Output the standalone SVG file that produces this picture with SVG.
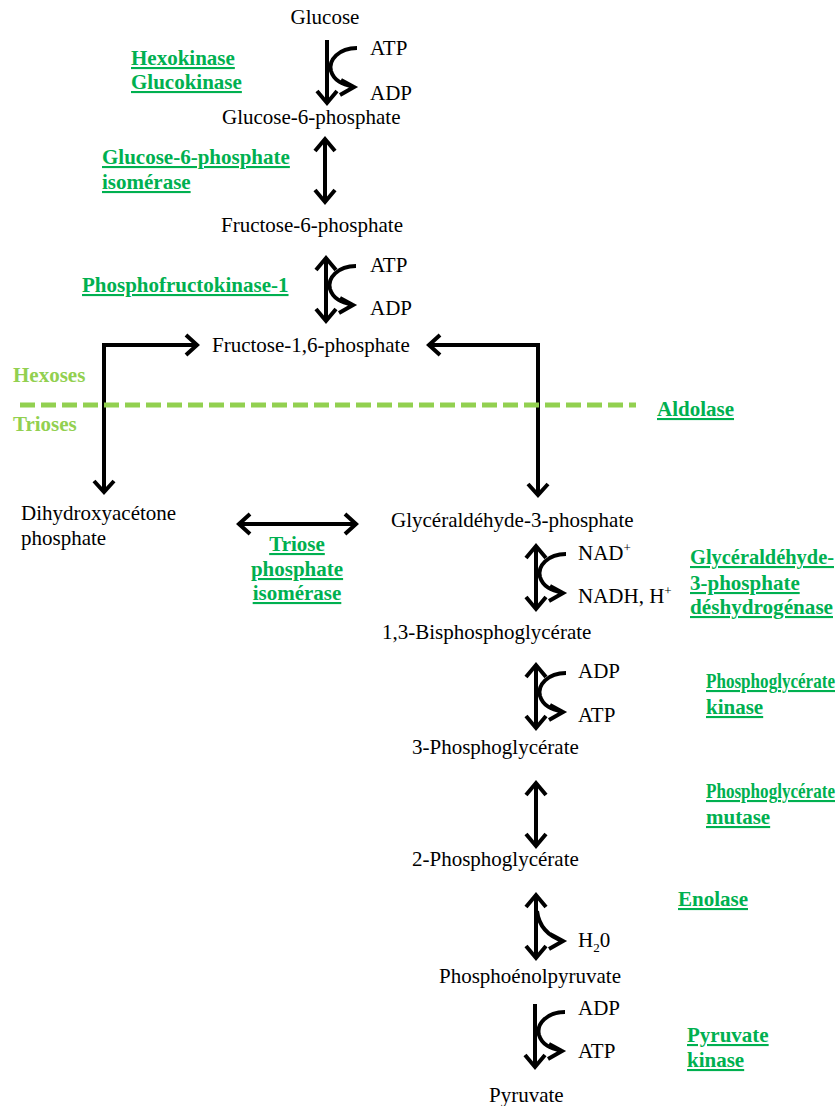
<svg xmlns="http://www.w3.org/2000/svg" xmlns:xlink="http://www.w3.org/1999/xlink" width="837" height="1106" viewBox="0 0 837 1106">
<style>
.t{font-family:"Liberation Serif","Times New Roman",serif;font-size:21px;fill:#000}
.e{font-family:"Liberation Serif","Times New Roman",serif;font-size:21px;font-weight:bold;fill:#00b050;text-decoration:underline}
.h{font-family:"Liberation Serif","Times New Roman",serif;font-size:21px;font-weight:bold;fill:#92d050}
.s{fill:none;stroke:#000;stroke-width:4;stroke-linejoin:miter}
.sup{font-size:13px}
</style>
<defs>
<g id="down">
<path class="s" d="M0,0 V63 M-10,51 L0,63 L10,51"/>
</g>
<g id="dbl">
<path class="s" d="M0,0 V63 M-10,51 L0,63 L10,51 M-10,12 L0,0 L10,12"/>
</g>
<g id="curve">
<path class="s" d="M30,8 C12,8 1,20 4,31 C7,41 15,44 27,47 M14,40 L27,47 L13,55"/>
</g>
<g id="halfcurve">
<path class="s" d="M1,16 C3,32 12,41 27,46 M14,39 L27,46 L13,54"/>
</g>
</defs>

<g id="connectors">
<use xlink:href="#down" href="#down" x="327" y="40"/>
<use xlink:href="#curve" href="#curve" x="327" y="40"/>
<use xlink:href="#dbl" href="#dbl" x="325" y="139"/>
<use xlink:href="#dbl" href="#dbl" x="326" y="258"/>
<use xlink:href="#curve" href="#curve" x="326" y="258"/>
<path class="s" d="M197,345 H104 V492 M94,481 L104,492 L114,481 M186,335 L197,345 L186,355"/>
<path class="s" d="M429,345 H538 V495 M528,484 L538,495 L548,484 M440,335 L429,345 L440,355"/>
<path class="s" d="M239,524 H356 M250,514 L239,524 L250,534 M345,514 L356,524 L345,534"/>
<use xlink:href="#dbl" href="#dbl" x="536" y="546"/>
<use xlink:href="#curve" href="#curve" x="536" y="546"/>
<use xlink:href="#dbl" href="#dbl" x="536" y="665"/>
<use xlink:href="#curve" href="#curve" x="536" y="665"/>
<use xlink:href="#dbl" href="#dbl" x="536" y="783"/>
<use xlink:href="#dbl" href="#dbl" x="536" y="895"/>
<use xlink:href="#halfcurve" href="#halfcurve" x="536" y="895"/>
<use xlink:href="#down" href="#down" x="535" y="1004"/>
<use xlink:href="#curve" href="#curve" x="535" y="1004"/>
<path d="M20,405 H636" fill="none" stroke="#92d050" stroke-width="5" stroke-dasharray="15,6"/>
</g>

<g id="glucose"><text class="t" x="325" y="24" text-anchor="middle">Glucose</text></g>
<g id="atp1"><text class="t" x="370" y="55">ATP</text></g>
<g id="adp1"><text class="t" x="370" y="100">ADP</text></g>
<g id="hexokinase"><text class="e" x="131" y="65">Hexokinase</text><text class="e" x="131" y="89">Glucokinase</text></g>
<g id="g6p"><text class="t" x="222" y="124">Glucose-6-phosphate</text></g>
<g id="g6pi"><text class="e" x="102" y="164">Glucose-6-phosphate</text><text class="e" x="102" y="189">isomérase</text></g>
<g id="f6p"><text class="t" x="221" y="232">Fructose-6-phosphate</text></g>
<g id="atp2"><text class="t" x="370" y="272">ATP</text></g>
<g id="adp2"><text class="t" x="370" y="315">ADP</text></g>
<g id="pfk"><text class="e" x="82" y="292">Phosphofructokinase-1</text></g>
<g id="f16p"><text class="t" x="212" y="352">Fructose-1,6-phosphate</text></g>
<g id="hexoses"><text class="h" x="13" y="382">Hexoses</text></g>
<g id="trioses"><text class="h" x="13" y="431">Trioses</text></g>
<g id="aldolase"><text class="e" x="657" y="416">Aldolase</text></g>
<g id="dhap"><text class="t" x="21" y="520">Dihydroxyacétone</text><text class="t" x="21" y="545">phosphate</text></g>
<g id="g3p"><text class="t" x="391" y="527">Glycéraldéhyde-3-phosphate</text></g>
<g id="tpi"><text class="e" x="297" y="551" text-anchor="middle">Triose</text><text class="e" x="297" y="576" text-anchor="middle">phosphate</text><text class="e" x="297" y="600" text-anchor="middle">isomérase</text></g>
<g id="nad"><text class="t" x="578" y="560">NAD<tspan class="sup" dy="-8">+</tspan></text></g>
<g id="nadh"><text class="t" x="578" y="603">NADH, H<tspan class="sup" dy="-8">+</tspan></text></g>
<g id="gapdh"><text class="e" x="690" y="564" textLength="144" lengthAdjust="spacingAndGlyphs">Glycéraldéhyde-</text><text class="e" x="690" y="590">3-phosphate</text><text class="e" x="690" y="614" textLength="143" lengthAdjust="spacingAndGlyphs">déshydrogénase</text></g>
<g id="bpg"><text class="t" x="382" y="639">1,3-Bisphosphoglycérate</text></g>
<g id="adp3"><text class="t" x="578" y="678">ADP</text></g>
<g id="atp3"><text class="t" x="578" y="722">ATP</text></g>
<g id="pgk"><text class="e" x="706" y="688" textLength="129" lengthAdjust="spacingAndGlyphs">Phosphoglycérate</text><text class="e" x="706" y="714">kinase</text></g>
<g id="pg3"><text class="t" x="412" y="754">3-Phosphoglycérate</text></g>
<g id="pgm"><text class="e" x="706" y="798" textLength="129" lengthAdjust="spacingAndGlyphs">Phosphoglycérate</text><text class="e" x="706" y="824">mutase</text></g>
<g id="pg2"><text class="t" x="412" y="866">2-Phosphoglycérate</text></g>
<g id="enolase"><text class="e" x="678" y="906">Enolase</text></g>
<g id="h2o"><text class="t" x="578" y="947">H<tspan class="sup" dy="5">2</tspan><tspan dy="-5">0</tspan></text></g>
<g id="pep"><text class="t" x="439" y="983">Phosphoénolpyruvate</text></g>
<g id="adp4"><text class="t" x="578" y="1015">ADP</text></g>
<g id="atp4"><text class="t" x="578" y="1058">ATP</text></g>
<g id="pk"><text class="e" x="687" y="1042">Pyruvate</text><text class="e" x="687" y="1067">kinase</text></g>
<g id="pyruvate"><text class="t" x="489" y="1102">Pyruvate</text></g>
</svg>
